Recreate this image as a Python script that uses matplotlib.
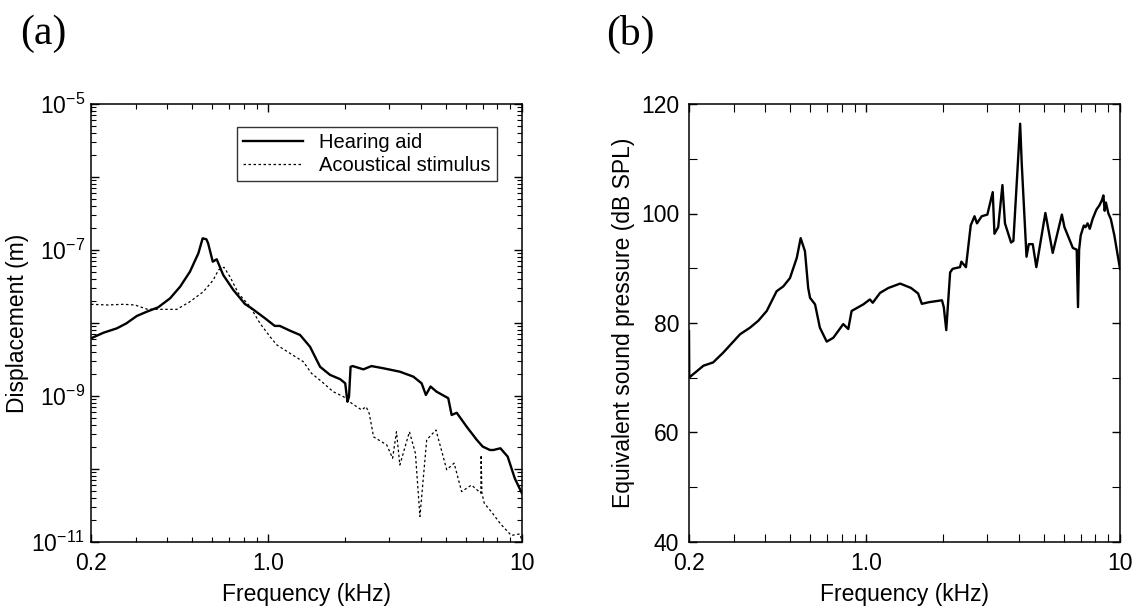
import numpy as np
import matplotlib
matplotlib.use("Agg")
import matplotlib.pyplot as plt
from matplotlib.ticker import FixedLocator, NullFormatter, MultipleLocator

plt.rcParams['font.family'] = ['Liberation Sans', 'DejaVu Sans']
plt.rcParams['mathtext.fontset'] = 'custom'
plt.rcParams['mathtext.rm'] = 'Liberation Sans'
plt.rcParams['mathtext.it'] = 'Liberation Sans:italic'

# (a) displacement, frequency in kHz, values as log10(m)
freq_aid = [0.2, 0.224, 0.253, 0.276, 0.303, 0.332, 0.368, 0.41, 0.449, 0.491, 0.53, 0.551,
            0.57, 0.579, 0.604, 0.626, 0.664, 0.728, 0.809, 0.86, 0.971, 1.06, 1.11, 1.217,
            1.334, 1.46, 1.6, 1.75, 1.92, 2.01, 2.05, 2.08, 2.11, 2.15, 2.37, 2.55, 2.84,
            3.3, 3.73, 4.02, 4.18, 4.36, 4.6, 5.12, 5.28, 5.53, 6.05, 6.63, 7.0, 7.48, 7.71,
            8.22, 8.78, 9.37, 10.0]
logd_aid = [-8.21, -8.133, -8.073, -8.004, -7.904, -7.845, -7.785, -7.662, -7.503, -7.297,
            -7.045, -6.84, -6.853, -6.908, -7.16, -7.127, -7.342, -7.548, -7.74, -7.8,
            -7.936, -8.04, -8.04, -8.105, -8.164, -8.325, -8.6, -8.71, -8.77, -8.826,
            -9.078, -9.01, -8.6, -8.59, -8.635, -8.59, -8.62, -8.667, -8.735, -8.826,
            -8.986, -8.87, -8.94, -9.03, -9.26, -9.23, -9.42, -9.6, -9.693, -9.74, -9.74,
            -9.716, -9.83, -10.13, -10.335]

freq_ac = [0.2, 0.232, 0.268, 0.298, 0.332, 0.374, 0.436, 0.491, 0.555, 0.607, 0.636, 0.669,
           0.706, 0.762, 0.848, 0.927, 1.016, 1.08, 1.217, 1.374, 1.48, 1.62, 1.8, 1.98,
           2.13, 2.33, 2.43, 2.5, 2.6, 2.93, 3.09, 3.2, 3.3, 3.6, 3.8, 3.96, 4.21, 4.58,
           5.05, 5.4, 5.78, 6.32, 6.88, 6.9, 6.95, 7.1, 7.59, 8.22, 9.07, 9.8, 10.0]
logd_ac = [-7.744, -7.753, -7.744, -7.753, -7.81, -7.813, -7.813, -7.708, -7.57, -7.41,
           -7.274, -7.237, -7.366, -7.593, -7.777, -8.004, -8.188, -8.30, -8.415, -8.53,
           -8.69, -8.80, -8.94, -9.01, -9.1, -9.19, -9.147, -9.24, -9.56, -9.67, -9.853,
           -9.49, -9.945, -9.49, -9.784, -10.65, -9.60, -9.466, -10.01, -9.92, -10.31,
           -10.22, -10.33, -9.81, -10.33, -10.47, -10.59, -10.75, -10.91, -10.89, -10.98]

# (b) equivalent sound pressure, dB SPL
freq_spl = [0.2, 0.2005, 0.228, 0.249, 0.273, 0.318, 0.348, 0.375, 0.405, 0.443, 0.471, 0.5,
            0.532, 0.551, 0.573, 0.59, 0.6, 0.628, 0.656, 0.698, 0.741, 0.811, 0.849, 0.875,
            0.973, 1.033, 1.06, 1.133, 1.222, 1.36, 1.5, 1.6, 1.655, 1.766, 1.987, 2.02,
            2.066, 2.14, 2.19, 2.34, 2.37, 2.47, 2.58, 2.67, 2.73, 2.85, 3.0, 3.15, 3.2,
            3.31, 3.44, 3.52, 3.72, 3.8, 4.04, 4.1, 4.28, 4.37, 4.53, 4.68, 5.08, 5.43, 5.9,
            6.04, 6.52, 6.75, 6.83, 6.9, 7.0, 7.2, 7.31, 7.45, 7.6, 7.8, 8.07, 8.3, 8.5,
            8.6, 8.7, 8.8, 9.0, 9.2, 9.5, 9.84, 10.0]
spl = [78.5, 70.05, 72.2, 72.8, 74.6, 77.95, 79.15, 80.4, 82.2, 85.8, 86.7, 88.2, 91.9,
       95.5, 93.1, 86.4, 84.6, 83.4, 79.15, 76.6, 77.3, 79.8, 78.9, 82.2, 83.4, 84.3, 83.7,
       85.5, 86.4, 87.2, 86.4, 85.4, 83.5, 83.8, 84.15, 82.9, 78.7, 89.25, 89.9, 90.2,
       91.2, 90.2, 97.85, 99.5, 98.2, 99.5, 99.8, 103.9, 96.3, 97.5, 105.2, 98.2, 94.7,
       95.0, 116.4, 109.0, 92.1, 94.4, 94.4, 90.2, 100.1, 92.8, 99.8, 97.5, 93.7, 93.4,
       82.9, 93.4, 96.0, 97.8, 97.5, 98.2, 97.2, 99.0, 100.7, 101.5, 102.5, 103.3, 100.5,
       102.0, 100.0, 99.0, 96.0, 91.8, 89.9]

xticks = [0.2, 1.0, 10]
xticklabels = ['0.2', '1.0', '10']
xminor = [0.3, 0.4, 0.5, 0.6, 0.7, 0.8, 0.9, 2, 3, 4, 5, 6, 7, 8, 9]

fig = plt.figure(figsize=(11.32, 6.13), dpi=100)
ax1 = fig.add_axes([91 / 1132, 71 / 613, 431 / 1132, 438 / 613])
ax2 = fig.add_axes([689 / 1132, 71 / 613, 431 / 1132, 438 / 613])

ax1.loglog(freq_aid, 10 ** np.array(logd_aid), color='black', lw=1.7, label='Hearing aid')
ax1.loglog(freq_ac, 10 ** np.array(logd_ac), color='black', lw=0.9, ls=(0, (2, 2)),
           label='Acoustical stimulus')
ax1.set_ylim(1e-11, 1e-5)
ax1.yaxis.set_major_locator(FixedLocator([10.0 ** e for e in range(-11, -4)]))
ax1.set_yticklabels([r'$\mathregular{10^{%d}}$' % e if e % 2 else '' for e in range(-11, -4)])
ax1.yaxis.set_minor_locator(FixedLocator([m * 10.0 ** e for e in range(-11, -5) for m in range(2, 10)]))
ax1.yaxis.set_minor_formatter(NullFormatter())
ax1.set_ylabel('Displacement (m)', fontsize=16.5, labelpad=2)
leg = ax1.legend(loc='upper right', bbox_to_anchor=(0.942, 0.947), borderaxespad=0,
                 fontsize=14.5, frameon=True, fancybox=False, edgecolor='black',
                 handlelength=3.0, borderpad=0.3, labelspacing=0.2)
leg.get_frame().set_linewidth(1.0)

ax2.semilogx(freq_spl, spl, color='black', lw=1.7)
ax2.set_ylim(40, 120)
ax2.yaxis.set_major_locator(MultipleLocator(20))
ax2.yaxis.set_minor_locator(MultipleLocator(10))
ax2.set_ylabel('Equivalent sound pressure (dB SPL)', fontsize=16.5, labelpad=4)

for ax in (ax1, ax2):
    ax.set_xlim(0.2, 10)
    ax.xaxis.set_major_locator(FixedLocator(xticks))
    ax.set_xticklabels(xticklabels)
    ax.xaxis.set_minor_locator(FixedLocator(xminor))
    ax.xaxis.set_minor_formatter(NullFormatter())
    ax.set_xlabel('Frequency (kHz)', fontsize=16.5, labelpad=6)
    ax.tick_params(which='both', direction='in', top=True, right=True, labelsize=16.5)
    ax.tick_params(which='major', length=6, width=1.0, pad=7)
    ax.tick_params(which='minor', length=3.5, width=0.8)
    for s in ax.spines.values():
        s.set_linewidth(1.1)

ax2.tick_params(which='minor', length=6)
ax1.tick_params(axis='y', pad=4)

fig.text(20 / 1132, 1 - 34 / 613, '(a)', family='Liberation Serif', fontsize=30, va='center')
fig.text(606 / 1132, 1 - 34 / 613, '(b)', family='Liberation Serif', fontsize=30, va='center')

fig.savefig('out.png', dpi=100)
